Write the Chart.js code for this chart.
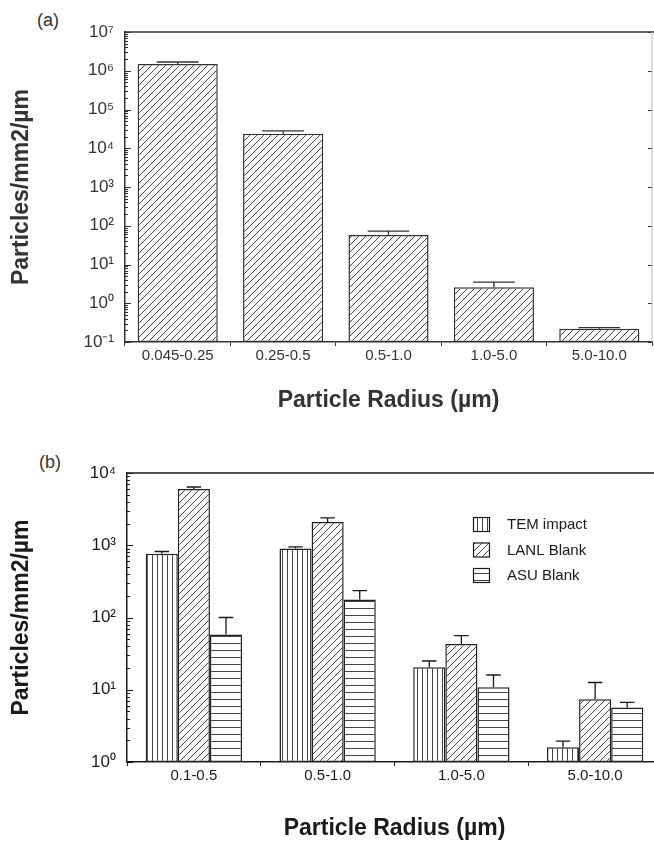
<!DOCTYPE html>
<html>
<head>
<meta charset="utf-8">
<script src="https://cdn.jsdelivr.net/npm/chart.js@4/dist/chart.umd.min.js"></script>
<style>
  html, body { margin: 0; padding: 0; background: #fff; overflow: hidden; }
  #page { position: relative; width: 654px; height: 843px; overflow: hidden; }
  .tag { position: absolute; font: 18px "Liberation Sans", Arial, sans-serif; color: #333; }
  #wrapA { position: absolute; left: 0; top: 0; }
  #wrapB { position: absolute; left: 0; top: 430px; }
</style>
</head>
<body>
<div id="page">
  <div class="tag" style="left:37px; top:10px;">(a)</div>
  <div class="tag" style="left:39px; top:452px;">(b)</div>
  <div id="wrapA"><canvas id="chartA" width="654" height="430"></canvas></div>
  <div id="wrapB"><canvas id="chartB" width="664" height="413"></canvas></div>
</div>
<script>
// panel (a)
const radiusA = ['0.045-0.25', '0.25-0.5', '0.5-1.0', '1.0-5.0', '5.0-10.0'];
const countsA = [1.5e6, 2.35e4, 58, 2.6, 0.22];
const errTopA = [1.68e6, 2.8e4, 73, 3.5, 0.235];
const yTicksA = [0.1, 1, 10, 100, 1e3, 1e4, 1e5, 1e6, 1e7];
const yLabelsA = ['10⁻¹', '10⁰', '10¹', '10²', '10³', '10⁴', '10⁵', '10⁶', '10⁷'];

// panel (b)
const radiusB = ['0.1-0.5', '0.5-1.0', '1.0-5.0', '5.0-10.0'];
const temImpact = [760, 900, 20.5, 1.6];
const temErr = [820, 950, 25, 1.95];
const lanlBlank = [6000, 2100, 43, 7.4];
const lanlErr = [6400, 2400, 56, 12.6];
const asuBlank = [58, 178, 10.8, 5.7];
const asuErr = [100, 235, 16, 6.7];
const yTicksB = [1, 10, 100, 1000, 10000];
const yLabelsB = ['10⁰', '10¹', '10²', '10³', '10⁴'];

Chart.defaults.font.family = '"Liberation Sans", Arial, Helvetica, sans-serif';

function hatch(canvasId, kind) {
    const s = kind === 'vert' ? 5 : 7;
    const tile = document.createElement('canvas');
    tile.width = s; tile.height = s;
    const g = tile.getContext('2d');
    g.fillStyle = '#fff';
    g.fillRect(0, 0, s, s);
    g.strokeStyle = '#444';
    g.lineWidth = 1;
    g.beginPath();
    if (kind === 'diag') {
        g.moveTo(-1, s + 1); g.lineTo(s + 1, -1);
        g.moveTo(-1, 1); g.lineTo(1, -1);
        g.moveTo(s - 1, s + 1); g.lineTo(s + 1, s - 1);
    } else if (kind === 'vert') {
        g.moveTo(2.5, 0); g.lineTo(2.5, s);
    } else {
        g.moveTo(0, 3.5); g.lineTo(s, 3.5);
    }
    g.stroke();
    return document.getElementById(canvasId).getContext('2d').createPattern(tile, 'repeat');
}

// error bars, inward log ticks, frame line, legend
const decor = {
    id: 'decor',
    afterDatasetsDraw(chart, args, opts) {
        const { ctx, chartArea: a, scales: { y } } = chart;
        ctx.save();
        ctx.strokeStyle = opts.ink;
        ctx.lineWidth = 1.3;
        chart.data.datasets.forEach((ds, di) => {
            chart.getDatasetMeta(di).data.forEach((bar, i) => {
                const top = y.getPixelForValue(ds.errTop[i]);
                const half = bar.width * opts.cap / 2;
                ctx.beginPath();
                ctx.moveTo(bar.x, bar.y); ctx.lineTo(bar.x, top);
                ctx.moveTo(bar.x - half, top); ctx.lineTo(bar.x + half, top);
                ctx.stroke();
            });
        });

        ctx.lineWidth = 1.5;
        ctx.beginPath();
        ctx.moveTo(a.left, a.top); ctx.lineTo(chart.width, a.top);
        ctx.stroke();

        const lo = Math.round(Math.log10(y.min)), hi = Math.round(Math.log10(y.max));
        ctx.lineWidth = 1;
        ctx.beginPath();
        for (let e = lo; e <= hi; e++) {
            for (let m = 1; m <= 9; m++) {
                const v = m * Math.pow(10, e);
                if (v > y.max * 1.0001) break;
                const py = Math.round(y.getPixelForValue(v)) + 0.5;
                ctx.moveTo(a.left, py); ctx.lineTo(a.left + (m === 1 ? 6 : 3), py);
                if (opts.rightAxis && m === 1) { ctx.moveTo(a.right, py); ctx.lineTo(a.right - 4, py); }
            }
        }
        ctx.stroke();
        if (opts.rightAxis) {
            ctx.strokeStyle = '#bbb';
            ctx.beginPath(); ctx.moveTo(a.right, a.top); ctx.lineTo(a.right, a.bottom); ctx.stroke();
        }

        if (opts.legend) {
            const L = opts.legend;
            ctx.font = '15px "Liberation Sans", Arial, sans-serif';
            ctx.textBaseline = 'middle';
            chart.data.datasets.forEach((ds, i) => {
                const bx = L.x, by = L.y + i * L.gap;
                ctx.fillStyle = ds.backgroundColor;
                ctx.fillRect(bx, by, 16, 14);
                ctx.strokeStyle = opts.ink;
                ctx.lineWidth = 1.2;
                ctx.strokeRect(bx + 0.5, by + 0.5, 16, 14);
                ctx.fillStyle = opts.ink;
                ctx.fillText(ds.label, bx + 34, by + 8);
            });
        }
        ctx.restore();
    }
};

function axes(opts) {
    return {
        x: {
            grid: { display: true, drawOnChartArea: false, drawTicks: true, tickLength: 4, offset: true, color: opts.ink },
            border: { color: opts.ink, width: 1.5 },
            ticks: { color: opts.ink, font: { size: 15 }, padding: 1 },
            title: { display: true, text: 'Particle Radius (µm)', color: opts.ink, font: { size: 23, weight: 'bold' }, padding: { top: 0, bottom: opts.titlePad } },
            afterFit: s => { s.height = opts.xHeight; }
        },
        y: {
            type: 'logarithmic',
            min: opts.ticks[0],
            max: opts.ticks[opts.ticks.length - 1],
            grid: { display: false, drawTicks: false },
            border: { color: opts.ink, width: 1.5 },
            afterBuildTicks: s => { s.ticks = opts.ticks.map(v => ({ value: v })); },
            ticks: { autoSkip: false, color: opts.ink, font: { size: 17 }, padding: 11, callback: (v, i) => opts.labels[i] },
            title: { display: true, text: 'Particles/mm2/µm', color: opts.ink, font: { size: 23, weight: 'bold' }, padding: { top: 8 } },
            afterFit: s => { s.width = opts.yWidth; }
        }
    };
}

new Chart('chartA', {
    type: 'bar',
    data: {
        labels: radiusA,
        datasets: [{
            data: countsA,
            errTop: errTopA,
            backgroundColor: hatch('chartA', 'diag'),
            borderColor: '#333',
            borderWidth: 1.5,
            borderSkipped: false,
            categoryPercentage: 0.76,
            barPercentage: 1
        }]
    },
    options: {
        responsive: false,
        animation: false,
        layout: { padding: { top: 32, right: 2, left: 0, bottom: 0 } },
        plugins: {
            legend: { display: false },
            tooltip: { enabled: false },
            decor: { cap: 0.52, rightAxis: true, ink: '#333' }
        },
        scales: axes({ ink: '#333', ticks: yTicksA, labels: yLabelsA, yWidth: 125, xHeight: 88, titlePad: 16 })
    },
    plugins: [decor]
});

new Chart('chartB', {
    type: 'bar',
    data: {
        labels: radiusB,
        datasets: [
            { label: 'TEM impact', data: temImpact, errTop: temErr, backgroundColor: hatch('chartB', 'vert') },
            { label: 'LANL Blank', data: lanlBlank, errTop: lanlErr, backgroundColor: hatch('chartB', 'diag') },
            { label: 'ASU Blank', data: asuBlank, errTop: asuErr, backgroundColor: hatch('chartB', 'horiz') }
        ].map(ds => Object.assign(ds, {
            borderColor: '#222', borderWidth: 1.5, borderSkipped: false,
            categoryPercentage: 0.72, barPercentage: 1
        }))
    },
    options: {
        responsive: false,
        animation: false,
        layout: { padding: { top: 43, right: 2, left: 0, bottom: 0 } },
        plugins: {
            legend: { display: false },
            tooltip: { enabled: false },
            decor: { cap: 0.45, rightAxis: false, ink: '#1a1a1a', legend: { x: 473, y: 87, gap: 25.5 } }
        },
        scales: axes({ ink: '#1a1a1a', ticks: yTicksB, labels: yLabelsB, yWidth: 127, xHeight: 81, titlePad: 1 })
    },
    plugins: [decor]
});
</script>
</body>
</html>
